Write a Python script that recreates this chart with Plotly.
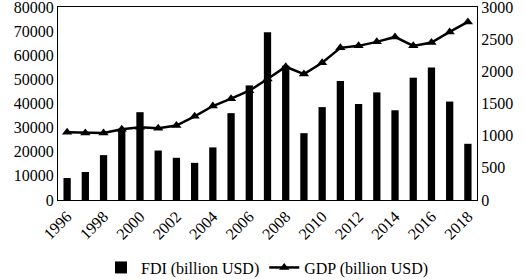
import plotly.graph_objects as go

years = list(range(1996, 2019))
fdi = [9100, 11600, 18600, 29500, 36400, 20500, 17500, 15400, 21800, 36000, 47500,
       69500, 55600, 27700, 38500, 49300, 39800, 44600, 37200, 50700, 54900, 40800, 23300]
gdp = [1053, 1043, 1043, 1100, 1131, 1115, 1157, 1301, 1461, 1575, 1699,
       1880, 2071, 1957, 2132, 2365, 2396, 2458, 2535, 2396, 2447, 2613, 2768]
tick_years = list(range(1996, 2019, 2))
left_ticks = list(range(0, 80001, 10000))
right_ticks = list(range(0, 3001, 500))

FAM = "Liberation Serif"
font = dict(family=FAM, size=16, color="black")

fig = go.Figure()
fig.add_trace(go.Bar(x=years, y=fdi, name="FDI (billion USD)", marker=dict(color="black", line=dict(width=0)),
                     width=0.4, yaxis="y"))
fig.add_trace(go.Scatter(x=years, y=gdp, name="GDP (billion USD)", mode="lines+markers",
                         line=dict(color="black", width=2.5),
                         marker=dict(symbol="triangle-up", size=9, color="black"), yaxis="y2"))

fig.update_layout(
    width=526, height=280,
    margin=dict(l=58, r=49, t=7, b=80, autoexpand=False),
    paper_bgcolor="white", plot_bgcolor="white",
    font=font,
    showlegend=True,
    legend=dict(orientation="h", x=0.5, xanchor="center", y=-0.35, yanchor="middle",
                font=dict(family="Liberation Serif, serif", size=16, color="black"),
                itemwidth=30, tracegroupgap=0),
    xaxis=dict(range=[1995.5, 2018.5], tickvals=tick_years, ticktext=[str(y) for y in tick_years],
               tickangle=-45, showgrid=False, showline=True, linecolor="black", linewidth=1,
               mirror=True, ticks="", tickfont=font, automargin=False),
    yaxis=dict(range=[0, 80000], tickvals=left_ticks, ticktext=[str(v) for v in left_ticks],
               showgrid=False, showline=True, ticklabeloverflow="allow", automargin=False,
               linecolor="black", linewidth=1, ticks="", tickfont=font, zeroline=False),
    yaxis2=dict(range=[0, 3000], tickvals=right_ticks, ticktext=[str(v) for v in right_ticks],
                overlaying="y", side="right", ticklabeloverflow="allow", automargin=False,
                showgrid=False, showline=True, linecolor="black", linewidth=1, ticks="",
                tickfont=font, zeroline=False),
    bargap=0.6,
)

fig.write_html("out.html", config={"displayModeBar": False},
               post_script="document.body.style.margin='0px';document.body.style.overflow='hidden';")
